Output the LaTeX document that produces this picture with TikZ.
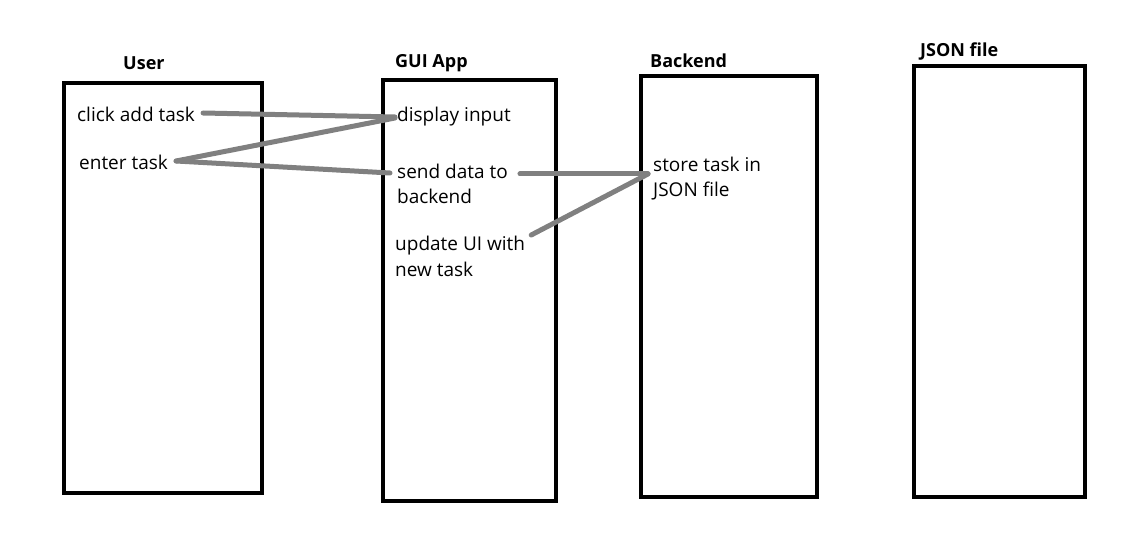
\documentclass[tikz,border=0pt]{standalone}
\usepackage{fontspec}
\setmainfont{Open Sans}
\tikzstyle{lanebox}=[line width=4pt, draw=black]
\tikzstyle{lanetitle}=[anchor=west, inner sep=0pt, font=\fontsize{18}{22}\selectfont\bfseries]
\tikzstyle{stepnote}=[anchor=west, inner sep=0pt, align=left,
    font=\fontsize{19}{25.5}\selectfont]
\tikzstyle{link}=[line width=5pt, draw=gray, line cap=round]

\begin{document}
\begin{tikzpicture}[x=1pt, y=-1pt]
        \useasboundingbox (0,0) rectangle (1134,556);
        % lanes
        \draw[lanebox] (64,83) rectangle (262,493);
        \draw[lanebox] (383,80) rectangle (556,501);
        \draw[lanebox] (641,76) rectangle (817,497);
        \draw[lanebox] (914,66) rectangle (1085,497);
        \node (user) at (123,63) [lanetitle] {User};
        \node (gui) at (395,63) [lanetitle] {GUI App};
        \node (backend) at (650,61) [lanetitle] {Backend};
        \node (json) at (920,52) [lanetitle] {JSON file};
        % steps
        \node (click) at (77,114.5) [stepnote] {click add task};
        \node (enter) at (79,162.5) [stepnote] {enter task};
        \node (display) at (397,116.5) [stepnote] {display input};
        \node (send) at (397,184) [stepnote] {send data to\\backend};
        \node (update) at (395,256.5) [stepnote] {update UI with\\new task};
        \node (store) at (653,178.5) [stepnote] {store task in\\JSON file};
        % connectors
        \draw[link] ([xshift=8pt,yshift=1.5pt]click.east) -- ([xshift=-2pt,yshift=-0.5pt]display.west);
        \draw[link] ([xshift=8pt,yshift=1.5pt]enter.east) -- ([xshift=-2pt,yshift=-1.5pt]display.west);
        \draw[link] ([xshift=8pt,yshift=1.5pt]enter.east) -- ([xshift=-7pt,yshift=11pt]send.west);
        \draw[link] ([xshift=12pt,yshift=10pt]send.east) -- ([xshift=-5pt,yshift=4.5pt]store.west);
        \draw[link] ([xshift=6pt,yshift=21.5pt]update.east) -- ([xshift=-5pt,yshift=4.5pt]store.west);
    \end{tikzpicture}
\end{document}
